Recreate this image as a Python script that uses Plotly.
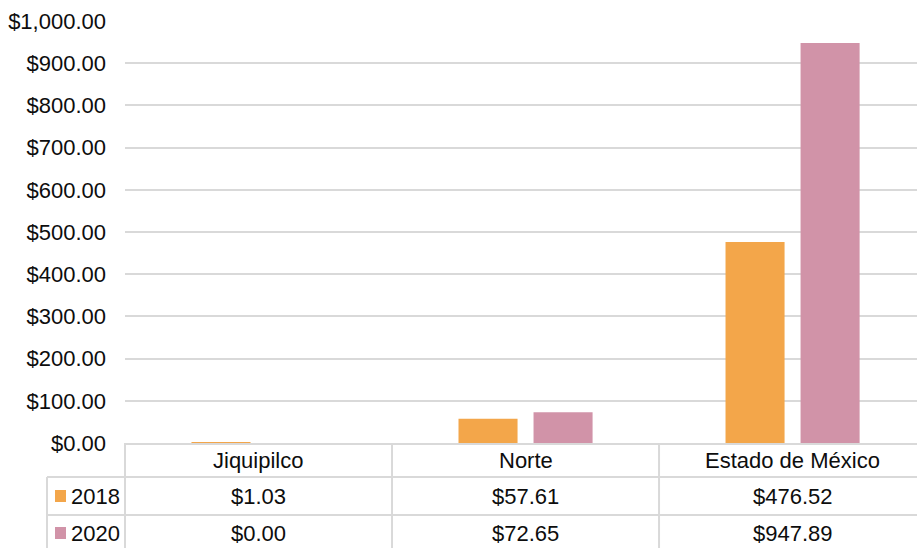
import plotly.graph_objects as go

# Data
categories = ["Jiquipilco", "Norte", "Estado de México"]
series_names = ["2018", "2020"]
values_2018 = [1.03, 57.61, 476.52]
values_2020 = [0.00, 72.65, 947.89]
series_values = [values_2018, values_2020]
series_colors = ["#F3A64A", "#D193A8"]

W, H = 917, 548
M_L, M_R, M_T, M_B = 125, 0, 21, 105
PLOT_W = W - M_L - M_R
PLOT_H = H - M_T - M_B

FONT = "Liberation Sans, Arial, sans-serif"
FS = 22
TXT = "#0d0d0d"
GRID = "#d9d9d9"

# the last category runs slightly past the right edge of the chart
X_RANGE = [-0.5, 2.466]


def px_x(p):
    return (p - M_L) / PLOT_W


def px_y(p):
    return (H - M_B - p) / PLOT_H


def money(v):
    return f"${v:,.2f}"


fig = go.Figure()
for name, vals, col in zip(series_names, series_values, series_colors):
    fig.add_trace(go.Bar(x=categories, y=vals, name=name, marker_color=col,
                         marker_line_width=0, showlegend=False))

shapes = []
annotations = []

# data-table grid
row_centers = [460, 496, 533]
bottom = 552
line = dict(color=GRID, width=2)
for ry in (477, 515):
    shapes.append(dict(type="line", xref="paper", yref="paper", x0=px_x(47), x1=1,
                       y0=px_y(ry), y1=px_y(ry), line=line))
shapes.append(dict(type="line", xref="paper", yref="paper", x0=px_x(47), x1=px_x(47),
                   y0=px_y(477), y1=px_y(bottom), line=line))
shapes.append(dict(type="line", xref="paper", yref="paper", x0=0, x1=0,
                   y0=px_y(443), y1=px_y(bottom), line=line))
for b in [0.5, 1.5]:
    shapes.append(dict(type="line", xref="x", yref="paper", x0=b, x1=b,
                       y0=px_y(443), y1=px_y(bottom), line=line))

# header row: category names
for c in categories:
    annotations.append(dict(x=c, y=px_y(row_centers[0]), xref="x", yref="paper",
                            text=c, showarrow=False, xanchor="center", yanchor="middle",
                            font=dict(family=FONT, size=FS, color=TXT)))

# series rows: legend key + values
for i, (name, vals, col) in enumerate(zip(series_names, series_values, series_colors)):
    yc = row_centers[i + 1]
    shapes.append(dict(type="rect", xref="paper", yref="paper",
                       x0=px_x(55), x1=px_x(66), y0=px_y(yc - 6), y1=px_y(yc + 6),
                       fillcolor=col, line=dict(width=0)))
    annotations.append(dict(x=px_x(69), y=px_y(yc), xref="paper", yref="paper",
                            text=name, showarrow=False, xanchor="left", yanchor="middle",
                            font=dict(family=FONT, size=FS, color=TXT)))
    for c, v in zip(categories, vals):
        annotations.append(dict(x=c, y=px_y(yc), xref="x", yref="paper",
                                text=money(v), showarrow=False, xanchor="center",
                                yanchor="middle",
                                font=dict(family=FONT, size=FS, color=TXT)))

fig.update_layout(
    width=W, height=H,
    margin=dict(l=M_L, r=M_R, t=M_T, b=M_B, pad=0),
    paper_bgcolor="white", plot_bgcolor="white",
    barmode="group", bargap=0.438, bargroupgap=0.213,
    font=dict(family=FONT, size=FS, color=TXT),
    shapes=shapes, annotations=annotations,
    xaxis=dict(showticklabels=False, showgrid=False, zeroline=False,
               showline=True, linecolor=GRID, linewidth=2, ticks="",
               range=X_RANGE),
    yaxis=dict(range=[0, 1000], dtick=100, tick0=0, tickprefix="$",
               tickformat=",.2f", showgrid=True, gridcolor=GRID, gridwidth=2,
               zeroline=False, showline=False, ticks="", ticklabelstandoff=18,
               tickfont=dict(family=FONT, size=FS, color=TXT)),
)

fig.write_html("out.html")
